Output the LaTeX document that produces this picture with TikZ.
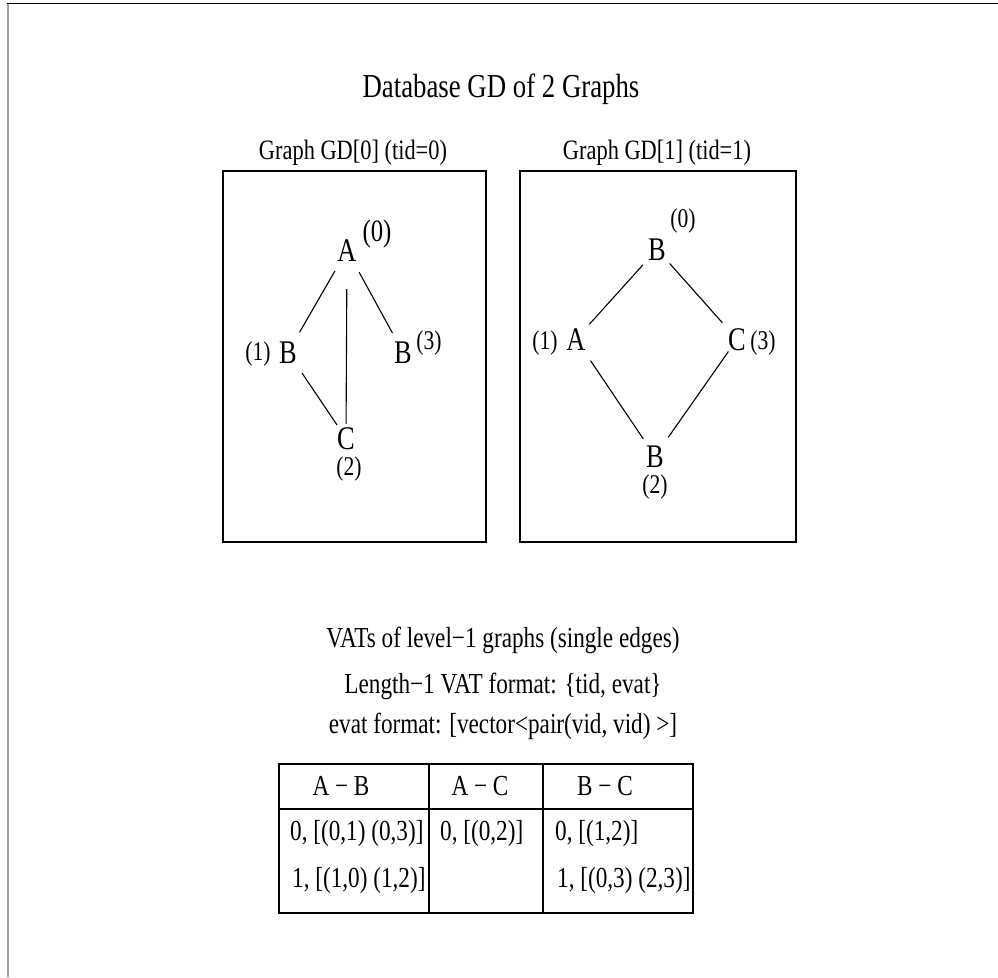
\documentclass[tikz,border=0pt]{standalone}
\usepackage{fontspec}
\setmainfont{Liberation Serif}[FakeStretch=0.8]
\tikzset{
  txt/.style={inner sep=0pt, anchor=base},
  ttl/.style={txt, font=\fontsize{33.5}{33.5}\selectfont},
  glabel/.style={txt, font=\fontsize{28}{28}\selectfont},
  vx/.style={txt, font=\fontsize{33}{33}\selectfont},
  vid/.style={txt, font=\fontsize{27}{27}\selectfont},
  vidbig/.style={txt, font=\fontsize{31}{31}\selectfont},
  vat/.style={txt, font=\fontsize{29}{29}\selectfont},
  cell/.style={txt, anchor=base west, font=\fontsize{29}{29}\selectfont},
  head/.style={txt, font=\fontsize{29}{29}\selectfont},
  gedge/.style={line width=1.1pt},
  boxline/.style={line width=1.2pt},
}
\begin{document}
\begin{tikzpicture}[x=1pt,y=-1pt]
\useasboundingbox (0,0) rectangle (998,977);
% outer frame (clipped on right and bottom)
\draw[gray!75, line width=2pt] (8,3) -- (8,977);
\draw[black, line width=1.3pt] (7,3.5) -- (998,3.5);

% title
\node[ttl] (title) at (501,97) {Database GD of 2 Graphs};

% graph labels and boxes
\node[glabel] (lab0) at (353,159) {Graph GD[0] (tid=0)};
\node[glabel] (lab1) at (657,159) {Graph GD[1] (tid=1)};
\draw[boxline] (223,171) rectangle (486,542);
\draw[boxline] (520,171) rectangle (796,542);

% graph 0
\node[vx] (a0) at (347,261) {A};
\node[vidbig] (a0id) at (377,241) {(0)};
\node[vx] (b01) at (288,363) {B};
\node[vid] (b01id) at (258,360) {(1)};
\node[vx] (b03) at (403,363) {B};
\node[vid] (b03id) at (429,349) {(3)};
\node[vx] (c02) at (346,449) {C};
\node[vid] (c02id) at (349,475) {(2)};
\draw[gedge, shorten <=24pt, shorten >=23pt] (a0.center) -- (b01.center);
\draw[gedge, shorten <=25pt, shorten >=22pt] (a0.center) -- (b03.center);
\draw[gedge, shorten <=39pt, shorten >=14pt] (a0.center) -- (c02.center);
\draw[gedge, shorten <=25pt, shorten >=16pt] (b01.center) -- (c02.center);

% graph 1
\node[vx] (b10) at (657,260) {B};
\node[vid] (b10id) at (683,227) {(0)};
\node[vx] (a11) at (576,350) {A};
\node[vid] (a11id) at (545,349) {(1)};
\node[vx] (c13) at (737,350) {C};
\node[vid] (c13id) at (763,349) {(3)};
\node[vx] (b12) at (655,467) {B};
\node[vid] (b12id) at (655,493) {(2)};
\draw[gedge, shorten <=21pt, shorten >=20pt] (b10.center) -- (a11.center);
\draw[gedge, shorten <=19pt, shorten >=22pt] (b10.center) -- (c13.center);
\draw[gedge, shorten <=26pt, shorten >=21pt] (a11.center) -- (b12.center);
\draw[gedge, shorten <=15pt, shorten >=23pt] (c13.center) -- (b12.center);

% VAT description
\node[vat] (vat1) at (503,647) {VATs of level−1 graphs (single edges)};
\node[vat] (vat2) at (503,693) {Length−1 VAT format: \{tid, evat\}};
\node[vat] (vat3) at (503,733) {evat format: [vector<pair(vid, vid) >]};

% table
\draw[boxline] (279,764) rectangle (693,913);
\draw[boxline] (429,764) -- (429,913);
\draw[boxline] (543,764) -- (543,913);
\draw[boxline] (279,809) -- (693,809);
\node[head] (hab) at (341,795) {A − B};
\node[head] (hac) at (480,795) {A − C};
\node[head] (hbc) at (605,795) {B − C};
\node[cell] (r1c1) at (290,840) {0, [(0,1) (0,3)]};
\node[cell] (r1c2) at (440,840) {0, [(0,2)]};
\node[cell] (r1c3) at (555,840) {0, [(1,2)]};
\node[cell] (r2c1) at (292,887) {1, [(1,0) (1,2)]};
\node[cell] (r2c3) at (557,887) {1, [(0,3) (2,3)]};
\end{tikzpicture}
\end{document}
